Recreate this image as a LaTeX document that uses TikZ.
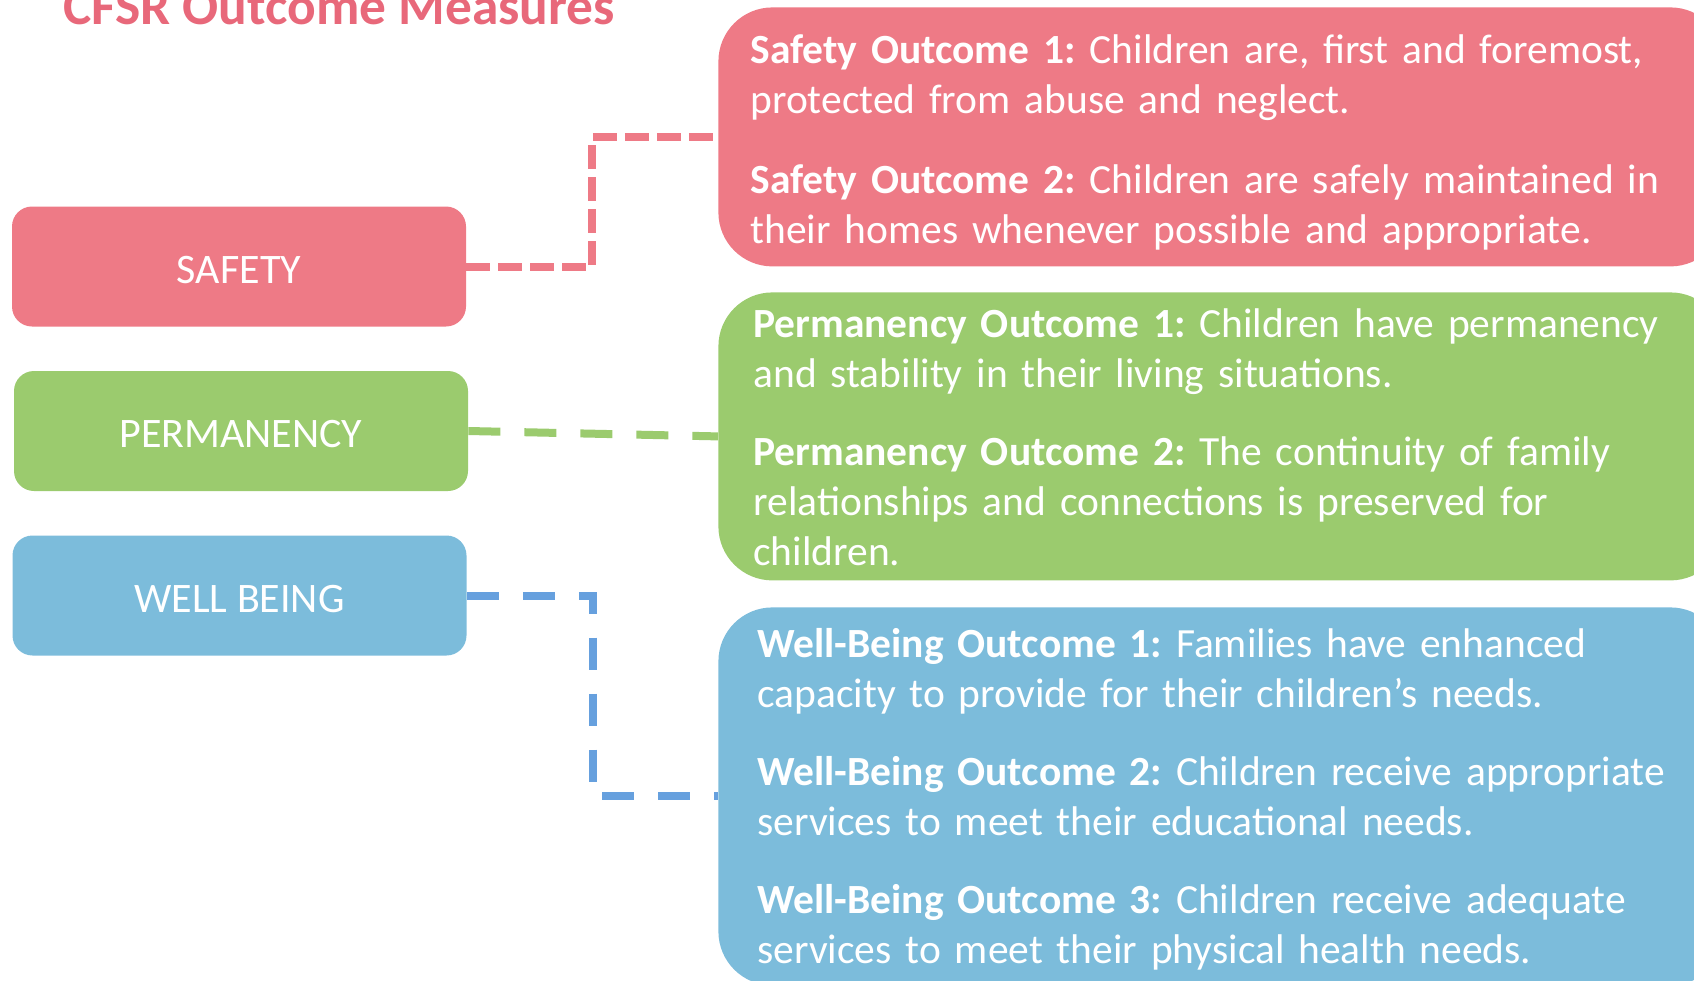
\documentclass[tikz,border=0pt]{standalone}
\usepackage{fontspec}
\setmainfont{Carlito}
\usetikzlibrary{positioning}

\definecolor{safetyred}{HTML}{EE7A86}
\definecolor{titlered}{HTML}{E8687A}
\definecolor{permgreen}{HTML}{9BCB6E}
\definecolor{wellblue}{HTML}{7CBCDB}
\definecolor{welldash}{HTML}{66A0DE}

\begin{document}
\frenchspacing
\begin{tikzpicture}[x=0.5pt, y=-0.5pt,
  areabox/.style={rectangle, rounded corners=10pt, minimum width=227pt, minimum height=60pt,
    inner sep=0pt, text height=16.5pt, text depth=0pt, text=white, font=\fontsize{21}{25}\selectfont},
  outbox/.style={rectangle, rounded corners=27pt, minimum width=503pt, anchor=north west, inner sep=0pt},
  outtext/.style={anchor=base west, inner sep=0pt, text width=480pt, align=left, text=white,
    font=\fontsize{20.75}{25}\selectfont},
  shortdash/.style={line width=4pt, dash pattern=on 12pt off 4pt},
  longdash/.style={line width=4pt, dash pattern=on 16pt off 12pt}]

% Frame of the page (the title and the right boxes run past it)
\useasboundingbox (0,0) rectangle (1694,981);
\clip (0,0) rectangle (1694,981);

% Title
\node[anchor=base west, inner sep=0pt, text=titlered, font=\fontsize{26.7}{32}\selectfont\bfseries] (title) at (63,24) {CFSR Outcome Measures};

% Left boxes
\node[areabox, fill=safetyred] (safety) at (239,266.5) {SAFETY};
\node[areabox, fill=permgreen] (perm) at (241,431) {PERMANENCY};
\node[areabox, fill=wellblue] (well) at (239.5,595.5) {WELL BEING};

% Right boxes
\node[outbox, fill=safetyred, minimum height=129.5pt] (safetyout) at (718,7) {};
\node[outbox, fill=permgreen, minimum height=144pt] (permout) at (718,292) {};
\node[outbox, fill=wellblue, minimum height=189pt] (wellout) at (718,607) {};

% Outcome texts
\node[outtext] (s1) at (750,63) {\textbf{Safety Outcome 1:} Children are, first and foremost,\\ protected from abuse and neglect.};
\node[outtext] (s2) at (750,193) {\textbf{Safety Outcome 2:} Children are safely maintained in\\ their homes whenever possible and appropriate.};
\node[outtext] (p1) at (753,337) {\textbf{Permanency Outcome 1:} Children have permanency\\ and stability in their living situations.};
\node[outtext] (p2) at (753,465) {\textbf{Permanency Outcome 2:} The continuity of family\\ relationships and connections is preserved for\\ children.};
\node[outtext] (w1) at (757,657) {\textbf{Well-Being Outcome 1:} Families have enhanced\\ capacity to provide for their children’s needs.};
\node[outtext] (w2) at (757,785) {\textbf{Well-Being Outcome 2:} Children receive appropriate\\ services to meet their educational needs.};
\node[outtext] (w3) at (757,913) {\textbf{Well-Being Outcome 3:} Children receive adequate\\ services to meet their physical health needs.};

% Connectors
\draw[shortdash, safetyred] (safety.east) -- ++(126,0) |- (safetyout.west);
\draw[longdash, permgreen] (perm.east) -- (permout.west);
\draw[longdash, welldash] (well.east) -- ++(126,0) |- (wellout.west);
\end{tikzpicture}
\end{document}
